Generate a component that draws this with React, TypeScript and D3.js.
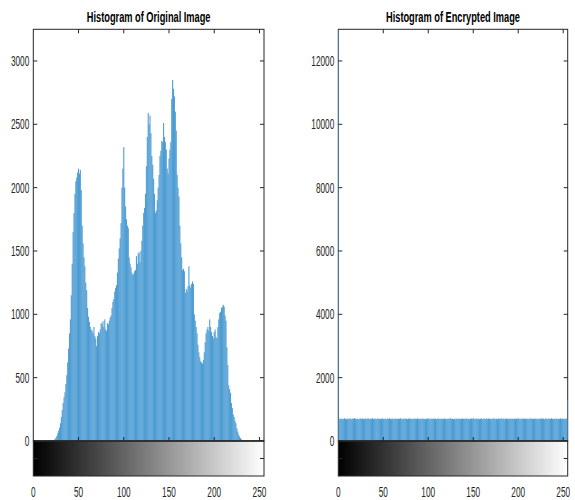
import React from "react";
import * as d3 from "d3";

// counts per gray level 0..255
const originalCounts = [
  0, 0, 0, 0, 0, 0, 0, 0, 0, 0, 0, 0, 0, 0, 0, 0,
  0, 0, 0, 0, 0, 0, 3, 8, 15, 25, 40, 60, 80, 105, 140, 190,
  245, 300, 345, 385, 450, 520, 620, 730, 850, 960, 1150, 1400, 1650, 1800, 1950, 2050,
  2080, 2120, 2150, 2110, 2140, 1980, 1700, 1560, 1450, 1380, 1250, 1190, 1050, 980, 940, 900,
  880, 870, 850, 900, 830, 810, 750, 830, 860, 850, 880, 930, 920, 945, 900, 960,
  880, 870, 930, 920, 950, 975, 990, 1050, 1100, 1120, 1180, 1210, 1230, 1330, 1440, 1520,
  1600, 1720, 2000, 2150, 2320, 2000, 1850, 1750, 1700, 1680, 1450, 1400, 1370, 1330, 1310, 1320,
  1340, 1350, 1460, 1400, 1480, 1490, 1410, 1500, 1580, 1700, 1800, 1840, 1950, 2170, 2400, 2590,
  2500, 2570, 2430, 2250, 2180, 2070, 1950, 1800, 1820, 1900, 2000, 2100, 2250, 2290, 2370, 2360,
  2510, 2400, 2360, 2300, 2150, 2110, 2230, 2300, 2360, 2700, 2850, 2780, 2720, 2600, 2450, 2100,
  2000, 1930, 1700, 1560, 1450, 1350, 1360, 1340, 1170, 1200, 1180, 1220, 1380, 1230, 1210, 1240,
  1260, 1240, 1000, 950, 900, 850, 760, 700, 660, 630, 620, 610, 640, 700, 780, 850,
  880, 900, 870, 960, 900, 860, 830, 810, 860, 880, 820, 810, 900, 960, 1010, 1020,
  1050, 1060, 1075, 1060, 990, 950, 740, 600, 440, 410, 380, 300, 260, 210, 190, 160,
  140, 100, 75, 50, 35, 22, 14, 8, 4, 2, 0, 0, 0, 0, 0, 0,
  0, 0, 0, 0, 0, 0, 0, 0, 0, 0, 0, 0, 0, 0, 0, 20,
];

const encryptedCounts = [
  13000, 702, 688, 715, 694, 706, 690, 721, 698, 684, 710, 703, 692, 718, 700, 687,
  709, 695, 726, 701, 689, 712, 697, 683, 705, 716, 693, 708, 699, 686, 713, 704,
  691, 719, 700, 688, 707, 696, 722, 690, 703, 711, 685, 698, 714, 702, 693, 706,
  689, 717, 700, 695, 710, 684, 703, 708, 697, 720, 691, 699, 712, 687, 705, 694,
  715, 701, 690, 707, 698, 724, 686, 703, 696, 709, 692, 713, 700, 688, 705, 699,
  717, 693, 702, 685, 711, 697, 706, 690, 719, 701, 694, 708, 687, 703, 712, 696,
  700, 684, 709, 698, 721, 692, 704, 689, 713, 699, 706, 695, 710, 686, 702, 716,
  691, 705, 697, 708, 688, 700, 714, 693, 703, 687, 711, 698, 706, 722, 690, 701,
  695, 709, 684, 704, 699, 716, 692, 707, 688, 702, 712, 697, 705, 691, 718, 700,
  694, 708, 686, 703, 710, 696, 725, 689, 704, 699, 713, 692, 706, 687, 701, 715,
  698, 690, 709, 703, 694, 720, 688, 705, 711, 697, 702, 685, 716, 699, 707, 693,
  704, 689, 712, 700, 696, 723, 691, 708, 702, 686, 714, 698, 705, 692, 710, 701,
  687, 717, 695, 703, 709, 690, 706, 699, 721, 693, 704, 688, 712, 700, 697, 715,
  691, 708, 702, 686, 710, 698, 719, 694, 705, 689, 713, 701, 696, 707, 684, 703,
  711, 692, 718, 699, 706, 690, 702, 715, 688, 709, 697, 704, 693, 720, 700, 687,
  708, 695, 712, 701, 689, 706, 698, 716, 692, 703, 710, 694, 705, 699, 712, 1300,
];

const originalTicks = [0, 500, 1000, 1500, 2000, 2500, 3000];
const encryptedTicks = [0, 2000, 4000, 6000, 8000, 10000, 12000];
const levelTicks = [0, 50, 100, 150, 200, 250];

const AXIS = "#262626";
const BAR = "#4196d0";
const FONT = "'Liberation Sans', Arial, sans-serif";

type PanelProps = {
  id: string;
  title: string;
  counts: number[];
  yMax: number;
  yTicks: number[];
  left: number;
  right: number;
};

function Panel({ id, title, counts, yMax, yTicks, left, right }: PanelProps) {
  const top = 29.3;
  const base = 441;
  const barBottom = 476;
  const x = d3.scaleLinear().domain([0, 255]).range([left, right]);
  const y = d3.scaleLinear().domain([0, yMax]).range([base, top]);
  const bw = x(1) - x(0);
  const tick = 4;

  return (
    <g>
      <defs>
        <clipPath id={`clip-${id}`}>
          <rect x={left} y={top} width={right - left} height={base - top} />
        </clipPath>
        <linearGradient id={`grad-${id}`} gradientUnits="userSpaceOnUse" x1={x(0)} x2={x(255)} y1={0} y2={0}>
          <stop offset="0" stopColor="#000" />
          <stop offset="1" stopColor="#fff" />
        </linearGradient>
      </defs>

      {/* frame */}
      <rect x={left} y={top} width={right - left} height={base - top} fill="white" stroke={AXIS} strokeWidth={1} />

      {/* bars, slightly overlapping so antialiasing leaves no white gaps */}
      <g clipPath={`url(#clip-${id})`}>
        {counts.map((c, i) =>
          c > 0 ? (
            <rect key={i} x={x(i) - bw * 0.6} y={y(c)} width={bw * 1.2} height={base - y(c)} fill={BAR} fillOpacity={0.92} />
          ) : null
        )}
      </g>

      {/* ticks on histogram axes */}
      {levelTicks.slice(1).map((t) => (
        <g key={t}>
          <line x1={x(t)} x2={x(t)} y1={top} y2={top + tick} stroke={AXIS} />
          <line x1={x(t)} x2={x(t)} y1={base} y2={base - tick} stroke={AXIS} />
        </g>
      ))}
      {yTicks.map((t) => (
        <g key={t}>
          <line x1={left} x2={left + tick} y1={y(t)} y2={y(t)} stroke={AXIS} />
          <line x1={right} x2={right - tick} y1={y(t)} y2={y(t)} stroke={AXIS} />
          <text
            transform={`translate(${left - 4},${y(t) + 5}) scale(0.57,1)`}
            textAnchor="end"
            fontSize={14.5}
            fontFamily={FONT}
            fill={AXIS}
          >
            {t}
          </text>
        </g>
      ))}

      {/* gray level colour bar */}
      <rect x={left} y={base} width={right - left} height={barBottom - base} fill={`url(#grad-${id})`} stroke={AXIS} strokeWidth={1} />
      <line x1={right} x2={right - tick} y1={(base + barBottom) / 2} y2={(base + barBottom) / 2} stroke={AXIS} />
      <line x1={left} x2={left + tick} y1={(base + barBottom) / 2} y2={(base + barBottom) / 2} stroke={AXIS} />
      <line x1={left} x2={right} y1={base} y2={base} stroke={AXIS} strokeWidth={1.3} />
      {levelTicks.map((t) => (
        <text
          key={t}
          transform={`translate(${x(t)},497) scale(0.57,1)`}
          textAnchor="middle"
          fontSize={14.5}
          fontFamily={FONT}
          fill={AXIS}
        >
          {t}
        </text>
      ))}

      <text
        transform={`translate(${(left + right) / 2},21.7) scale(0.66,1)`}
        textAnchor="middle"
        fontSize={14}
        fontWeight="bold"
        fontFamily={FONT}
        fill="#000"
      >
        {title}
      </text>
    </g>
  );
}

export default function App() {
  return (
    <svg width={575} height={500} style={{ position: "absolute", left: 0, top: 0, background: "white" }}>
      <Panel
        id="orig"
        title="Histogram of Original Image"
        counts={originalCounts}
        yMax={3250}
        yTicks={originalTicks}
        left={33.3}
        right={264}
      />
      <Panel
        id="enc"
        title="Histogram of Encrypted Image"
        counts={encryptedCounts}
        yMax={13000}
        yTicks={encryptedTicks}
        left={338.3}
        right={567.7}
      />
    </svg>
  );
}
